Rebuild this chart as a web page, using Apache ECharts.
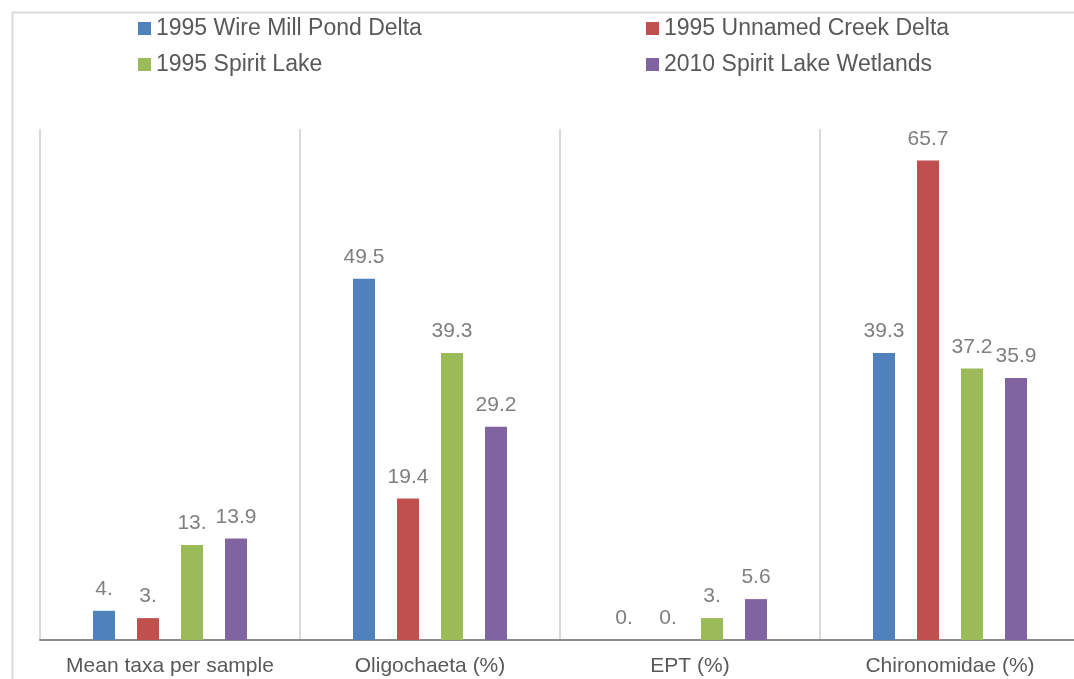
<!DOCTYPE html>
<html>
<head>
<meta charset="utf-8">
<script src="https://cdn.jsdelivr.net/npm/echarts@6/dist/echarts.min.js"></script>
<style>
html, body { margin: 0; padding: 0; background: #fff; overflow: hidden; }
#main { width: 1080px; height: 679px; }
</style>
</head>
<body>
<div id="main"></div>
<script>
// 数据
var categories = ['Mean taxa per sample', 'Oligochaeta (%)', 'EPT (%)', 'Chironomidae (%)'];
var seriesNames = ['1995 Wire Mill Pond Delta', '1995 Unnamed Creek Delta', '1995 Spirit Lake', '2010 Spirit Lake Wetlands'];
var wireMill = [4, 49.5, 0, 39.3];
var unnamedCreek = [3, 19.4, 0, 65.7];
var spiritLake = [13, 39.3, 3, 37.2];
var spiritWetlands = [13.9, 29.2, 5.6, 35.9];
// 标签文字 (as printed on the chart)
var wireMillLabels = ['4.', '49.5', '0.', '39.3'];
var unnamedCreekLabels = ['3.', '19.4', '0.', '65.7'];
var spiritLakeLabels = ['13.', '39.3', '3.', '37.2'];
var spiritWetlandsLabels = ['13.9', '29.2', '5.6', '35.9'];

var colors = ['#4f81bd', '#c0504d', '#9bbb59', '#8064a2'];
var values = [wireMill, unnamedCreek, spiritLake, spiritWetlands];
var labels = [wireMillLabels, unnamedCreekLabels, spiritLakeLabels, spiritWetlandsLabels];
var fontName = '"Liberation Sans", Arial, sans-serif';

var series = [];
for (var i = 0; i < values.length; i++) {
	series.push({
		name : seriesNames[i],
		type : 'bar',
		data : values[i],
		barWidth : 22,
		barGap : '100%',
		itemStyle : { color : colors[i] },
		label : {
			show : true,
			position : 'top',
			distance : 11,
			color : '#7f7f7f',
			fontSize : 21,
			fontFamily : fontName,
			formatter : (function(lab) {
				return function(p) { return lab[p.dataIndex]; };
			})(labels[i])
		}
	});
}

var legendText = {
	color : '#595959',
	fontSize : 23,
	fontFamily : fontName
};

var option = {
	animation : false,
	backgroundColor : '#fff',
	graphic : [{
		type : 'rect',
		left : 10, top : 10,
		shape : { width : 1080, height : 690 },
		style : { fill : 'none', stroke : '#d9d9d9', lineWidth : 2 },
		silent : true
	}],
	legend : [{
		orient : 'vertical',
		left : 138, top : 17,
		padding : 0,
		itemWidth : 13, itemHeight : 13, itemGap : 13,
		icon : 'rect',
		data : [seriesNames[0], seriesNames[2]],
		textStyle : legendText
	}, {
		orient : 'vertical',
		left : 646, top : 17,
		padding : 0,
		itemWidth : 13, itemHeight : 13, itemGap : 13,
		icon : 'rect',
		data : [seriesNames[1], seriesNames[3]],
		textStyle : legendText
	}],
	grid : { left : 40, top : 129, right : 0, bottom : 39, containLabel : false },
	xAxis : {
		type : 'category',
		data : categories,
		boundaryGap : true,
		axisLine : { lineStyle : { color : '#8c8c8c', width : 2 } },
		axisTick : { show : false },
		axisLabel : {
			interval : 0,
			color : '#595959',
			fontSize : 21,
			margin : 16,
			fontFamily : fontName
		},
		splitLine : { show : true, interval : 0, lineStyle : { color : '#d9d9d9', width : 2 } }
	},
	yAxis : {
		type : 'value',
		min : 0, max : 70,
		show : false,
		splitLine : { show : false }
	},
	series : series
};

var myChart = echarts.init(document.getElementById('main'));
myChart.setOption(option);
</script>
</body>
</html>
